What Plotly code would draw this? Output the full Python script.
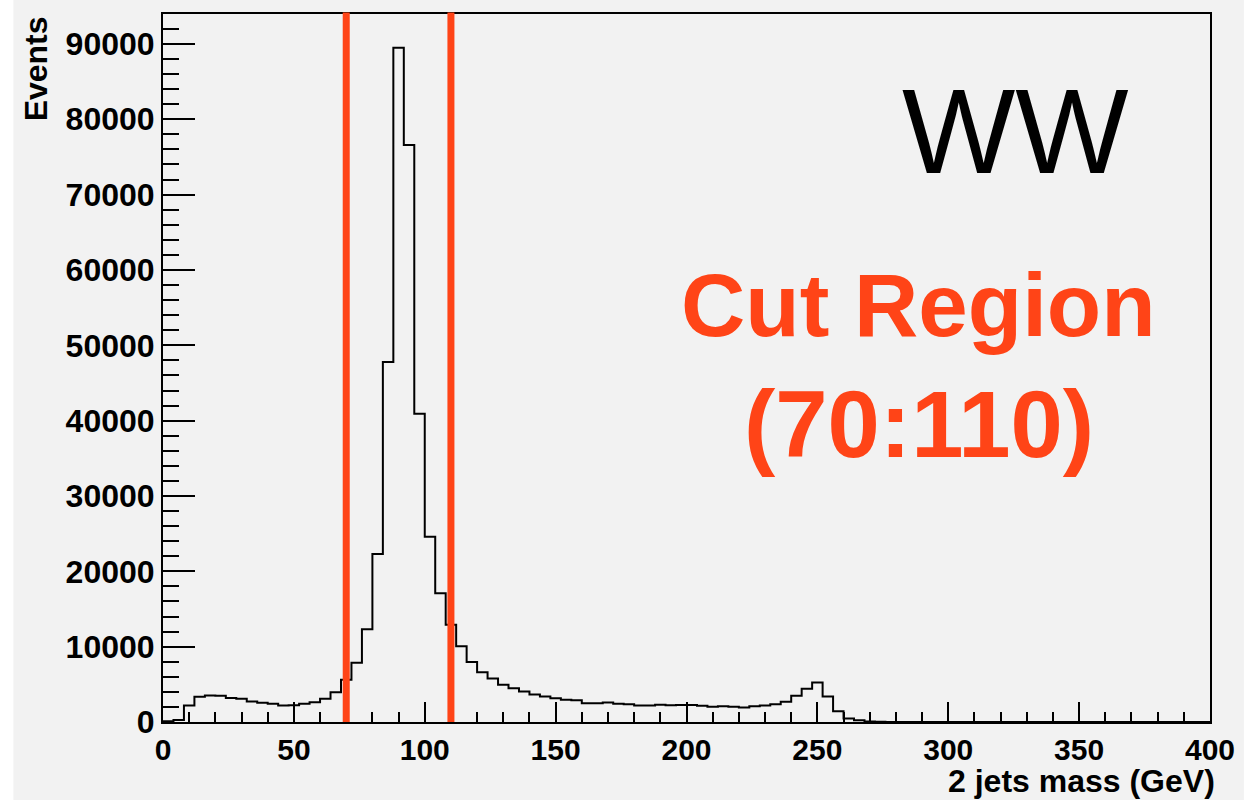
import plotly.graph_objects as go

# ---------------- data ----------------
bin_width = 4
bin_edges = list(range(0, 401, bin_width))
counts = [
    100, 250, 2190, 3340, 3510, 3470, 3200, 3070, 2720, 2540,
    2410, 2190, 2230, 2410, 2630, 3070, 3950, 5600, 7850, 12300,
    22300, 47800, 89500, 76600, 40900, 24600, 17100, 12900, 10050, 7950,
    6600, 5770, 4930, 4490, 4040, 3650, 3380, 3160, 2940, 2900,
    2500, 2500, 2590, 2410, 2370, 2190, 2190, 2280, 2230, 2250,
    2240, 2150, 2010, 2100, 2010, 1920, 2100, 2190, 2370, 2680,
    3470, 4400, 5240, 3380, 1440, 460, 240, 70, 30, 15,
    0, 0, 0, 0, 0, 0, 0, 0, 0, 0,
    0, 0, 0, 0, 0, 0, 0, 0, 0, 0,
    0, 0, 0, 0, 0, 0, 0, 0, 0, 0,
]
cut_low, cut_high = 70, 110
y_ticks = [0, 10000, 20000, 30000, 40000, 50000, 60000, 70000, 80000, 90000]
x_ticks = [0, 50, 100, 150, 200, 250, 300, 350, 400]
x_title = "2 jets mass (GeV)"
y_title = "Events"
process_label = "WW"
cut_label_1 = "Cut Region"
cut_label_2 = "(70:110)"

# ---------------- style ----------------
BG = "#f2f2f2"
RED = "#ff4417"
FONT = "Liberation Sans"
y_max = max(counts) * 1.05

step_x = bin_edges
step_y = counts + [counts[-1]]

fig = go.Figure()
fig.add_trace(go.Scatter(
    x=step_x, y=step_y, mode="lines",
    line=dict(shape="hv", color="black", width=2),
    hoverinfo="skip", showlegend=False,
))

# cut lines
for xc in (cut_low, cut_high):
    fig.add_shape(type="line", xref="x", yref="paper", x0=xc, x1=xc, y0=0, y1=1.002,
                  line=dict(color=RED, width=7), layer="above")

# grey canvas with white strip on left
fig.add_shape(type="rect", xref="paper", yref="paper",
              x0=(13 - 163) / 1050, x1=(1247 - 163) / 1050, y0=-0.2, y1=1.1,
              fillcolor=BG, line=dict(width=0), layer="below")

fig.add_annotation(x=325.5, y=78470, xref="x", yref="y", text=process_label, showarrow=False,
                   font=dict(family=FONT, size=120, color="black"), xanchor="center", yanchor="middle")
fig.add_annotation(x=288.8, y=55400, xref="x", yref="y", text="<b>%s</b>" % cut_label_1, showarrow=False,
                   font=dict(family=FONT, size=89, color=RED), xanchor="center", yanchor="middle")
fig.add_annotation(x=288.8, y=39500, xref="x", yref="y", text="<b>%s</b>" % cut_label_2, showarrow=False,
                   font=dict(family=FONT, size=94, color=RED), xanchor="center", yanchor="middle")

# axis titles
fig.add_annotation(x=1.0, y=(722.5 - 782) / 709, xref="paper", yref="paper", text="<b>%s</b>" % x_title,
                   showarrow=False, xanchor="right", yanchor="middle", xshift=6, borderpad=0,
                   font=dict(family=FONT, size=32, color="black"))
fig.add_annotation(x=(36 - 163) / 1050, y=(722.5 - 14) / 709, xref="paper", yref="paper",
                   text="<b>%s</b>" % y_title, textangle=-90,
                   showarrow=False, xanchor="center", yanchor="top",
                   font=dict(family=FONT, size=32, color="black"))

fig.update_layout(
    width=1247, height=800,
    margin=dict(l=163, r=34, t=13.5, b=77.5, pad=0),
    paper_bgcolor="white", plot_bgcolor="rgba(0,0,0,0)",
    font=dict(family=FONT, size=32, color="black"),
    showlegend=False,
)
fig.update_xaxes(
    range=[0, 400], tickmode="array", tickvals=x_ticks, ticktext=["<b>%d</b>" % v for v in x_ticks],
    ticks="inside", ticklen=20, tickwidth=2, tickcolor="black",
    minor=dict(dtick=10, ticks="inside", ticklen=10, tickwidth=2, tickcolor="black"),
    showline=True, linewidth=2, linecolor="black", mirror=True,
    showgrid=False, zeroline=False, tickfont=dict(family=FONT, size=30),
)
fig.update_yaxes(
    range=[0, y_max], tickmode="array", tickvals=y_ticks, ticktext=["<b>%d</b>" % v for v in y_ticks],
    ticks="inside", ticklen=32, tickwidth=2, tickcolor="black",
    minor=dict(dtick=2000, ticks="inside", ticklen=16, tickwidth=2, tickcolor="black"),
    showline=True, linewidth=2, linecolor="black", mirror=True,
    showgrid=False, zeroline=False, tickfont=dict(family=FONT, size=32),
)

fig.write_html("out.html")
